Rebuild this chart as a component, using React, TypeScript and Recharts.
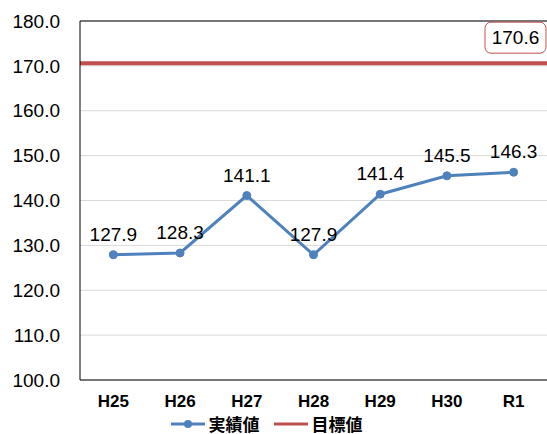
import React from 'react';
import { ComposedChart, Line, XAxis, YAxis, CartesianGrid, ReferenceLine, LabelList, Legend } from 'recharts';

const categories = ['H25', 'H26', 'H27', 'H28', 'H29', 'H30', 'R1'];
const actualValues = [127.9, 128.3, 141.1, 127.9, 141.4, 145.5, 146.3];
const targetValue = 170.6;
const yTicks = [100, 110, 120, 130, 140, 150, 160, 170, 180];
const seriesNames = ['実績値', '目標値'];

const data = categories.map((c, i) => ({ name: c, actual: actualValues[i] }));

const BLUE = '#4f81bd';
const RED = '#c0504d';
const FONT = '"Liberation Sans", Arial, sans-serif';

const TargetLabel = (props: any) => {
  const vb = props.viewBox || {};
  const x = vb.x + vb.width - 62;
  const y = vb.y - 41;
  return (
    <g>
      <rect x={x} y={y} width={61} height={31} rx={6} ry={6} fill="#fff" stroke={RED} strokeWidth={1} />
      <text x={x + 30.5} y={y + 22} textAnchor="middle" fontSize={19} fontFamily={FONT} fill="#000">
        {targetValue.toFixed(1)}
      </text>
    </g>
  );
};

const LegendContent = () => (
  <div style={{ display: 'flex', justifyContent: 'center', alignItems: 'center', height: 20, paddingRight: 14, marginTop: 4 }}>
    <svg width={34} height={12} style={{ marginRight: 4 }}>
      <line x1={0} y1={6} x2={34} y2={6} stroke={BLUE} strokeWidth={3} />
      <circle cx={17} cy={6} r={4} fill={BLUE} />
    </svg>
    <span style={{ fontFamily: '"Noto Sans CJK JP", sans-serif', fontWeight: 700, fontSize: 17, lineHeight: '20px', color: '#000', marginRight: 14 }}>{seriesNames[0]}</span>
    <svg width={34} height={12} style={{ marginRight: 4 }}>
      <line x1={0} y1={6} x2={34} y2={6} stroke={RED} strokeWidth={3} />
    </svg>
    <span style={{ fontFamily: '"Noto Sans CJK JP", sans-serif', fontWeight: 700, fontSize: 17, lineHeight: '20px', color: '#000' }}>{seriesNames[1]}</span>
  </div>
);

export default function App() {
  return (
    <div style={{ position: 'absolute', left: 0, top: 0, width: 547, height: 434, background: '#fff' }}>
      <ComposedChart width={547} height={434} data={data} margin={{ top: 21, right: 0, bottom: 0, left: 0 }}>
        <CartesianGrid vertical={false} stroke="#d9d9d9" strokeWidth={1} />
        <XAxis
          dataKey="name"
          type="category"
          scale="band"
          height={30}
          tickLine={false}
          axisLine={{ stroke: '#000', strokeWidth: 1 }}
          tick={{ fontFamily: FONT, fontSize: 17, fontWeight: 700, fill: '#000' }}
          tickMargin={9}
          interval={0}
        />
        <YAxis
          width={80}
          domain={[100, 180]}
          ticks={yTicks}
          interval={0}
          tickFormatter={(v: number) => v.toFixed(1)}
          tickLine={false}
          tickSize={0}
          tickMargin={20}
          axisLine={{ stroke: '#000', strokeWidth: 1 }}
          tick={{ fontFamily: FONT, fontSize: 19, fill: '#000' }}
        />
        <ReferenceLine y={180} stroke="#000" strokeWidth={1} />
        <ReferenceLine y={targetValue} stroke={RED} strokeWidth={4} label={<TargetLabel />} />
        <Line
          type="linear"
          dataKey="actual"
          stroke={BLUE}
          strokeWidth={3}
          dot={{ r: 4, fill: BLUE, stroke: BLUE, strokeWidth: 1 }}
          isAnimationActive={false}
        >
          <LabelList dataKey="actual" position="top" offset={14} formatter={(v: number) => v.toFixed(1)} style={{ fontFamily: FONT, fontSize: 19, fill: '#000' }} />
        </Line>
        <Legend verticalAlign="bottom" height={24} content={<LegendContent />} />
      </ComposedChart>
    </div>
  );
}
